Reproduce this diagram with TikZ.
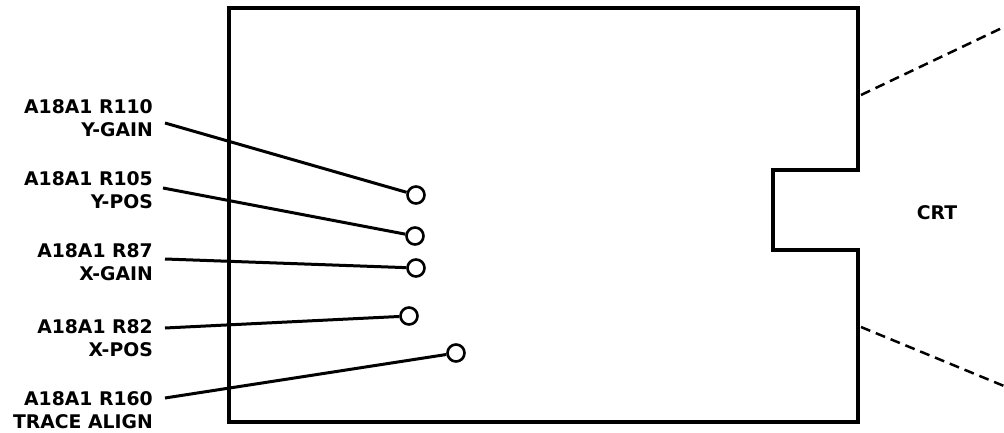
\documentclass[tikz,border=0pt]{standalone}
\usepackage{fontspec}
\setmainfont{DejaVu Sans}
\usetikzlibrary{positioning}

\begin{document}
\begin{tikzpicture}[
  x=1pt, y=-1pt,
  board/.style={line width=4.5pt, line join=miter},
  pot/.style={draw, circle, line width=2.6pt, minimum size=17pt, inner sep=0pt},
  lbl/.style={anchor=east, align=right, inner sep=0pt, font=\fontsize{18.8}{23}\selectfont\bfseries},
  lead/.style={line width=3pt},
  beam/.style={line width=2.5pt, dash pattern=on 10pt off 6pt}
]
  \useasboundingbox (0,0) rectangle (1004,433);

  \draw[board] (229,8) -- (858,8) -- (858,170) -- (773,170) -- (773,250)
    -- (858,250) -- (858,422) -- (229,422) -- cycle;

  \node[pot] (r110) at (416,195) {};
  \node[pot] (r105) at (415,236) {};
  \node[pot] (r87)  at (416,268) {};
  \node[pot] (r82)  at (409,316) {};
  \node[pot] (r160) at (456,353) {};

  \node[lbl] (t110) at (153,118.5) {A18A1 R110\\Y-GAIN};
  \node[lbl] (t105) at (153,190)   {A18A1 R105\\Y-POS};
  \node[lbl] (t87)  at (153,262)   {A18A1 R87\\X-GAIN};
  \node[lbl] (t82)  at (153,338)   {A18A1 R82\\X-POS};
  \node[lbl] (t160) at (153,410)   {A18A1 R160\\TRACE ALIGN};

  \draw[lead] ([xshift=12pt,yshift=-4.5pt]t110.east) -- (r110);
  \draw[lead] ([xshift=10pt,yshift=2pt]t105.east) -- (r105);
  \draw[lead] ([xshift=12pt,yshift=3pt]t87.east) -- (r87);
  \draw[lead] ([xshift=12pt,yshift=10pt]t82.east) -- (r82);
  \draw[lead] ([xshift=12pt,yshift=12pt]t160.east) -- (r160);

  \node[font=\fontsize{18.8}{22}\selectfont\bfseries] (crt) at (937,213) {CRT};

  \coordinate (up1) at (861,95);
  \coordinate (up2) at (1004,27);
  \coordinate (lo1) at (861,327);
  \coordinate (lo2) at (1004,386);
  \draw[beam] (up1) -- (up2);
  \draw[beam] (lo1) -- (lo2);
\end{tikzpicture}
\end{document}
